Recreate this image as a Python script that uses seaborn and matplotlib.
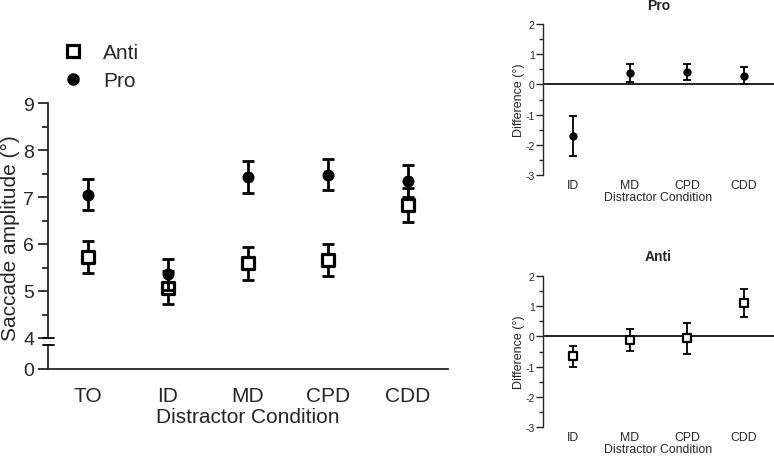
import matplotlib
matplotlib.use("Agg")
import matplotlib.pyplot as plt
import seaborn as sns
import numpy as np
import pandas as pd
from matplotlib.lines import Line2D

# ---------------- data ----------------
conditions = ["TO", "ID", "MD", "CPD", "CDD"]
pro_mean = [7.05, 5.36, 7.42, 7.47, 7.35]
pro_sem = [0.33, 0.33, 0.34, 0.33, 0.34]
anti_mean = [5.73, 5.07, 5.59, 5.66, 6.83]
anti_sem = [0.34, 0.35, 0.35, 0.34, 0.36]

diff_conditions = ["ID", "MD", "CPD", "CDD"]
pro_diff = [-1.70, 0.37, 0.41, 0.28]
pro_diff_err = [0.66, 0.29, 0.27, 0.28]
anti_diff = [-0.66, -0.12, -0.07, 1.09]
anti_diff_err = [0.34, 0.35, 0.51, 0.46]

sns.set_theme(style="ticks")
plt.rcParams['font.family'] = ['Liberation Sans', 'DejaVu Sans']
plt.rcParams['axes.unicode_minus'] = False

W, H = 774, 464
fig = plt.figure(figsize=(W / 100, H / 100), dpi=100)

def fx(px):
    return px / W

def fy(py):
    return (H - py) / H

# ---------------- main plot (broken axis) ----------------
L, R = 48, 448
ax_top = fig.add_axes([fx(L), fy(339), fx(R - L), fy(104) - fy(339)])
ax_bot = fig.add_axes([fx(L), fy(370), fx(R - L), fy(346) - fy(370)], sharex=ax_top)

main_df = pd.DataFrame({"cond": conditions * 2,
                        "mean": anti_mean + pro_mean,
                        "sem": anti_sem + pro_sem,
                        "task": ["Anti"] * 5 + ["Pro"] * 5})

lw = 2.0
# Anti
ax_top.errorbar(conditions, anti_mean, yerr=anti_sem, fmt="none", ecolor="black",
                elinewidth=lw, capsize=4.5, capthick=lw, zorder=2)
sns.scatterplot(data=main_df[main_df.task == "Anti"], x="cond", y="mean", ax=ax_top,
                marker="s", s=80, facecolor="white", edgecolor="black", linewidth=2.3,
                zorder=3, legend=False)
# Pro
ax_top.errorbar(conditions, pro_mean, yerr=pro_sem, fmt="none", ecolor="black",
                elinewidth=lw, capsize=4.5, capthick=lw, zorder=4)
sns.scatterplot(data=main_df[main_df.task == "Pro"], x="cond", y="mean", ax=ax_top,
                marker="o", s=75, color="black", edgecolor="black", linewidth=0,
                zorder=5, legend=False)

ax_top.set_xlim(-0.5, 4.5)
ax_top.set_ylim(4, 9)
ax_top.set_yticks([4, 5, 6, 7, 8, 9])
ax_top.set_yticks(np.arange(4.5, 9, 1.0), minor=True)
for s in ["top", "right", "bottom"]:
    ax_top.spines[s].set_visible(False)
ax_top.spines["left"].set_linewidth(1.3)
ax_top.tick_params(axis="x", bottom=False, labelbottom=False)
ax_top.tick_params(axis="y", which="major", length=7, width=1.3, labelsize=14, pad=3)
ax_top.tick_params(axis="y", which="minor", length=4.5, width=1.3)
ax_top.set_xlabel("")
ax_top.set_ylabel("")
ax_top.patch.set_alpha(0)

ax_bot.set_ylim(0, 1)
ax_bot.set_yticks([0])
for s in ["top", "right"]:
    ax_bot.spines[s].set_visible(False)
ax_bot.spines["left"].set_linewidth(1.3)
ax_bot.spines["bottom"].set_linewidth(1.3)
ax_bot.tick_params(axis="y", length=7, width=1.3, labelsize=14, pad=3)
ax_bot.tick_params(axis="x", length=0, labelsize=15, pad=12)
ax_bot.set_xticks(range(len(conditions)))
ax_bot.set_xticklabels(conditions)
ax_bot.set_xlabel("Distractor Condition", fontsize=15, labelpad=2)
ax_bot.patch.set_alpha(0)

# break marks
for py in (339, 346):
    fig.add_artist(Line2D([fx(43), fx(54)], [fy(py), fy(py)], color="black", lw=1.3))

fig.text(fx(10), fy(238), "Saccade amplitude (°)", rotation=90, ha="center", va="center",
         fontsize=15)

# legend
handles = [Line2D([], [], marker="s", linestyle="none", markersize=9, markerfacecolor="white",
                  markeredgecolor="black", markeredgewidth=2.3),
           Line2D([], [], marker="o", linestyle="none", markersize=8, color="black")]
fig.legend(handles, ["Anti", "Pro"], loc="upper left", bbox_to_anchor=(fx(62.5), fy(44)),
           frameon=False, fontsize=15, handlelength=1.0, handletextpad=0.94,
           labelspacing=0.45, borderaxespad=0, borderpad=0)

# ---------------- difference panels ----------------
def diff_panel(ax, values, errs, marker, title):
    df = pd.DataFrame({"cond": diff_conditions, "val": values})
    ax.axhline(0, color="black", lw=1.2, zorder=1)
    ax.errorbar(diff_conditions, values, yerr=errs, fmt="none", ecolor="black",
                elinewidth=1.3, capsize=3.2, capthick=1.3, zorder=2)
    if marker == "o":
        sns.scatterplot(data=df, x="cond", y="val", ax=ax, marker="o", s=36, color="black",
                        linewidth=0, zorder=3, legend=False)
    else:
        sns.scatterplot(data=df, x="cond", y="val", ax=ax, marker="s", s=36,
                        facecolor="white", edgecolor="black", linewidth=1.6, zorder=3,
                        legend=False)
    ax.set_xlim(-0.526, 3.526)
    ax.set_ylim(-3, 2)
    ax.set_yticks([-3, -2, -1, 0, 1, 2])
    ax.set_yticks(np.arange(-2.5, 2, 1.0), minor=True)
    for s in ["top", "right", "bottom"]:
        ax.spines[s].set_visible(False)
    ax.spines["left"].set_linewidth(1.0)
    ax.tick_params(axis="y", which="major", length=5, width=1.0, labelsize=7.5, pad=1)
    ax.tick_params(axis="y", which="minor", length=3, width=1.0)
    ax.tick_params(axis="x", length=0, labelsize=8.8, pad=3)
    ax.set_xlabel("Distractor Condition", fontsize=8.8, labelpad=0)
    ax.set_ylabel("Difference (°)", fontsize=9, labelpad=0)
    ax.set_title(title, fontsize=10, fontweight="bold", pad=11)
    ax.patch.set_alpha(0)

ax_pro = fig.add_axes([fx(543), fy(176), fx(231), fy(25) - fy(176)])
diff_panel(ax_pro, pro_diff, pro_diff_err, "o", "Pro")

ax_anti = fig.add_axes([fx(543), fy(428.3), fx(231), fy(276.7) - fy(428.3)])
diff_panel(ax_anti, anti_diff, anti_diff_err, "s", "Anti")

fig.savefig("out.png", dpi=100)
